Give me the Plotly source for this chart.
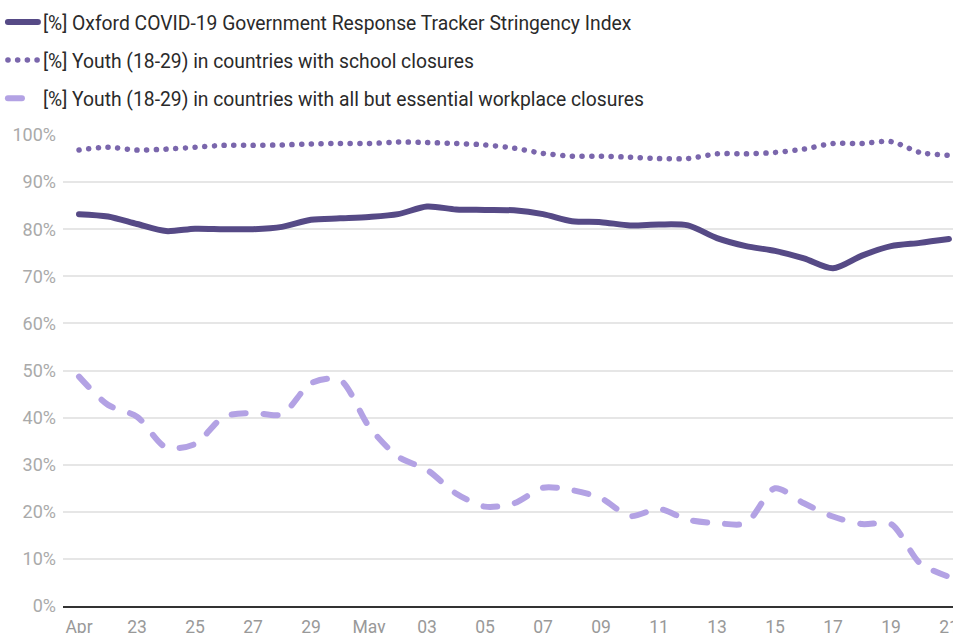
import plotly.graph_objects as go
import pandas as pd

dates = pd.date_range("2020-04-21", "2020-05-21", freq="D")

stringency = [83.2, 82.7, 81.1, 79.6, 80.1, 80.0, 80.0, 80.5, 82.0, 82.3, 82.6, 83.2, 84.8, 84.2,
              84.1, 84.0, 83.2, 81.7, 81.5, 80.8, 81.0, 80.8, 78.1, 76.4, 75.4, 73.8, 71.7, 74.4,
              76.4, 77.1, 77.9]
school = [96.8, 97.4, 96.8, 97.0, 97.4, 97.8, 97.8, 97.9, 98.1, 98.2, 98.2, 98.5, 98.4, 98.2,
          97.9, 97.2, 96.1, 95.5, 95.5, 95.3, 95.0, 95.0, 96.0, 96.0, 96.3, 97.0, 98.2, 98.2,
          98.6, 96.3, 95.7]
workplace = [48.7, 42.7, 40.2, 33.7, 34.4, 40.2, 41.0, 40.7, 47.3, 48.0, 38.1, 31.7, 28.9, 23.9,
             21.1, 21.8, 25.1, 24.6, 22.9, 19.1, 20.6, 18.3, 17.6, 17.6, 25.0, 21.8, 19.0, 17.4,
             17.4, 9.1, 6.2]

names = [
    "[%] Oxford COVID-19 Government Response Tracker Stringency Index",
    "[%] Youth (18-29) in countries with school closures",
    "[%] Youth (18-29) in countries with all but essential workplace closures",
]

tick_dates = pd.date_range("2020-04-21", "2020-05-21", freq="2D")
tick_text = ["Apr", "23", "25", "27", "29", "May", "03", "05", "07", "09", "11", "13", "15", "17", "19", "21"]

fig = go.Figure()
fig.add_trace(go.Scatter(x=dates, y=stringency, name=names[0], mode="lines", legendgroup="a",
                         line=dict(color="#564a86", width=6, shape="spline", smoothing=0.8)))
fig.add_trace(go.Scatter(x=dates, y=school, name=names[1], mode="lines", legendgroup="b",
                         line=dict(color="#7a66ac", width=5.5, shape="spline", smoothing=0.8,
                                   dash="0.1px,9.6px")))
fig.add_trace(go.Scatter(x=dates, y=workplace, name=names[2], mode="lines", legendgroup="c",
                         line=dict(color="#b3a2e4", width=6, shape="spline", smoothing=0.8,
                                   dash="14px,18px")))

fig.update_layout(
    width=953, height=633,
    margin=dict(l=63, r=0, t=135, b=27, autoexpand=False),
    paper_bgcolor="white", plot_bgcolor="white",
    font=dict(family="Roboto", color="#333333"),
    showlegend=True,
    legend=dict(x=-0.0675, xanchor="left", yref="container", y=0.9953, yanchor="top",
                font=dict(size=19.3, color="#2a2a2a", family="Roboto"),
                traceorder="grouped", tracegroupgap=10, itemwidth=30,
                bgcolor="rgba(0,0,0,0)"),
    xaxis=dict(type="date", range=["2020-04-20 10:45", "2020-05-21 03:20"],
               tickvals=list(tick_dates), ticktext=tick_text, showgrid=False,
               showline=True, linecolor="#333333", linewidth=2, ticks="",
               tickfont=dict(size=17.5, color="#999999"), ticklabelstandoff=4, zeroline=False,
               ticklabeloverflow="allow", automargin=False),
    yaxis=dict(range=[0, 100], tickvals=list(range(0, 101, 10)),
               ticktext=[f"{v}%" for v in range(0, 101, 10)],
               showgrid=True, gridcolor="#e6e6e6", gridwidth=1.5, zeroline=False,
               tickfont=dict(size=18, color="#aaaaaa"), ticks="", ticklabelstandoff=6,
               automargin=False),
)
for tr in fig.data:
    tr.update(cliponaxis=False)

post = ("document.body.style.margin='0';document.body.style.overflow='hidden';"
        "var gd=document.getElementById('{plot_id}');"
        "function rc(){gd.querySelectorAll('path.js-line, .legendlines path').forEach("
        "function(p){p.style.strokeLinecap='round';});}"
        "rc(); gd.on('plotly_afterplot', rc);")
fig.write_html("out.html", post_script=post, config={"displayModeBar": False})
